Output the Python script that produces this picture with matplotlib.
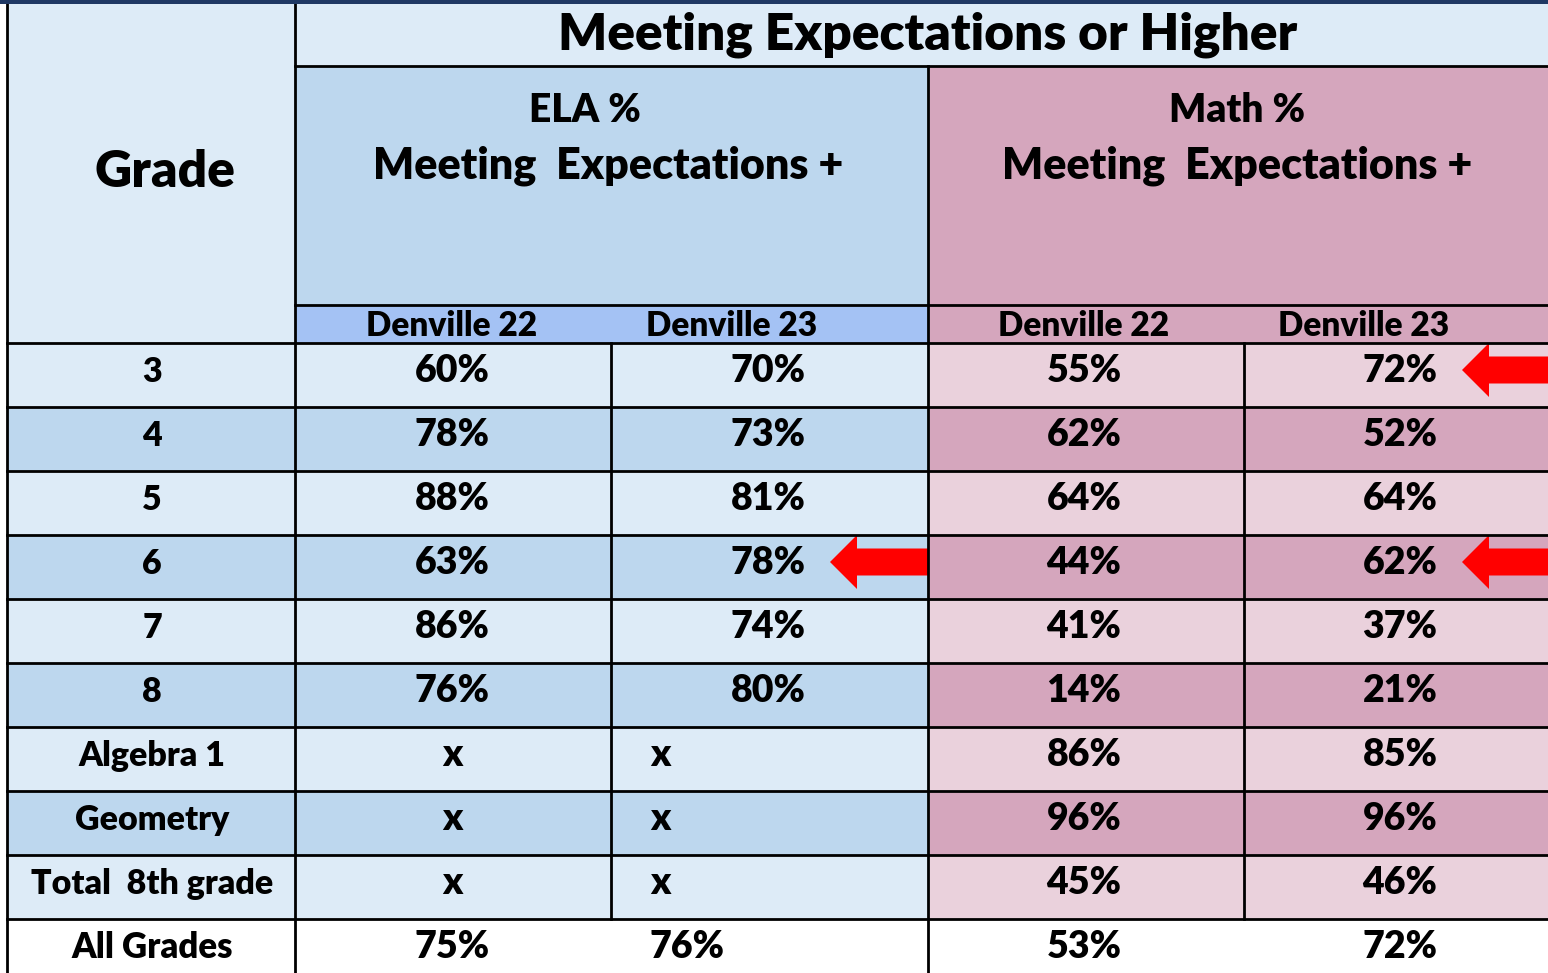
import matplotlib.pyplot as plt
from matplotlib.patches import Rectangle, Polygon


# data
grades = ["3", "4", "5", "6", "7", "8", "Algebra 1", "Geometry", "Total  8th grade"]
ela_22 = [60, 78, 88, 63, 86, 76, None, None, None]
ela_23 = [70, 73, 81, 78, 74, 80, None, None, None]
math_22 = [55, 62, 64, 44, 41, 14, 86, 96, 45]
math_23 = [72, 52, 64, 62, 37, 21, 85, 96, 46]
all_grades = [75, 76, 53, 72]
col_names = ["Denville 22", "Denville 23", "Denville 22", "Denville 23"]
# cells marked with a red arrow: (row, column)
arrows = [(0, 3), (3, 1), (3, 3)]

# settings (pixel layout, y grows downward)
W, H = 1548, 973
col_x = [7, 295, 611, 928, 1244, 1560]
y_title = (4, 66)
y_head = (66, 305)
y_sub = (305, 343)
row_top0 = 343
row_h = 64

FONT = "Lato"
WEIGHT = "heavy"
LINE = "black"
LW = 2.0

ELA_LIGHT, ELA_DARK, ELA_SUB = "#ddebf7", "#bdd7ee", "#a4c2f4"
MATH_LIGHT, MATH_DARK = "#ead1dc", "#d5a6bd"

fig = plt.figure(figsize=(W / 100, H / 100), dpi=100)
ax = fig.add_axes([0, 0, 1, 1])
ax.set_xlim(0, W)
ax.set_ylim(H, 0)
ax.axis("off")


def box(x0, x1, y0, y1, color):
    ax.add_patch(Rectangle((x0, y0), x1 - x0, y1 - y0, facecolor=color, edgecolor="none", zorder=1))


def txt(x, y, s, size, **kw):
    ax.text(x, y, s, fontsize=size, fontfamily=FONT, fontweight=WEIGHT,
            ha="center", va="baseline", color="black", zorder=5, **kw)


def fmt(v):
    return "x" if v is None else f"{v}%"


# header backgrounds
box(col_x[0], col_x[1], y_title[0], y_sub[1], ELA_LIGHT)
box(col_x[1], W, y_title[0], y_title[1], ELA_LIGHT)
box(col_x[1], col_x[3], y_head[0], y_head[1], ELA_DARK)
box(col_x[3], col_x[5], y_head[0], y_head[1], MATH_DARK)
box(col_x[1], col_x[3], y_sub[0], y_sub[1], ELA_SUB)
box(col_x[3], col_x[5], y_sub[0], y_sub[1], MATH_DARK)

# data row backgrounds
n_rows = len(grades)
for i in range(n_rows):
    y0 = row_top0 + i * row_h
    light = i % 2 == 0
    box(col_x[0], col_x[3], y0, y0 + row_h, ELA_LIGHT if light else ELA_DARK)
    box(col_x[3], col_x[5], y0, y0 + row_h, MATH_LIGHT if light else MATH_DARK)

y_all = row_top0 + n_rows * row_h
box(col_x[0], col_x[5], y_all, H, "white")

# top border band
ax.add_patch(Rectangle((0, 0), W, 4, facecolor="#1f3864", edgecolor="none", zorder=6))

# grid lines
ax.plot([col_x[1], W], [y_title[1]] * 2, color=LINE, lw=LW, zorder=4)
ax.plot([col_x[1], W], [y_sub[0]] * 2, color=LINE, lw=LW, zorder=4)
for i in range(n_rows + 1):
    y = row_top0 + i * row_h
    ax.plot([col_x[0], W], [y, y], color=LINE, lw=LW, zorder=4)
ax.plot([col_x[0]] * 2, [0, H], color=LINE, lw=LW, zorder=4)
ax.plot([col_x[1]] * 2, [y_title[0], H], color=LINE, lw=LW, zorder=4)
ax.plot([col_x[3]] * 2, [y_head[0], H], color=LINE, lw=LW, zorder=4)
for c in (2, 4):
    ax.plot([col_x[c]] * 2, [row_top0, y_all], color=LINE, lw=LW, zorder=4)

# header text
txt(928, 50, "Meeting Expectations or Higher", 37)
txt(165, 187, "Grade", 37)
txt(585, 122, "ELA %", 28)
txt(608, 179, "Meeting  Expectations +", 31)
txt(1237, 122, "Math %", 28)
txt(1237, 179, "Meeting  Expectations +", 31)
sub_x = [452, 732, 1084, 1364]
for x, name in zip(sub_x, col_names):
    txt(x, 336, name, 24)

# body text
val_x = [452, 768, 1084, 1400]
for i, g in enumerate(grades):
    base = row_top0 + i * row_h + 39
    txt(152, base, g, 24.5)
    for c, series in enumerate([ela_22, ela_23, math_22, math_23]):
        v = series[i]
        x = val_x[c]
        if v is None and c == 1:
            x = 660
        txt(x, base, fmt(v), 27)

all_x = [452, 687, 1084, 1400]
txt(152, y_all + 39, "All Grades", 25)
for x, v in zip(all_x, all_grades):
    txt(x, y_all + 39, fmt(v), 27)

# red arrows pointing at the highlighted cells
for r, c in arrows:
    right = col_x[c + 2]
    cy = row_top0 + r * row_h + 27
    tip = right - 98
    neck = tip + 27
    pts = [(tip, cy), (neck, cy - 27), (neck, cy - 13.5), (right, cy - 13.5),
           (right, cy + 13.5), (neck, cy + 13.5), (neck, cy + 27)]
    ax.add_patch(Polygon(pts, closed=True, facecolor="#ff0000", edgecolor="none", zorder=3))

fig.savefig("out.png", dpi=100)
